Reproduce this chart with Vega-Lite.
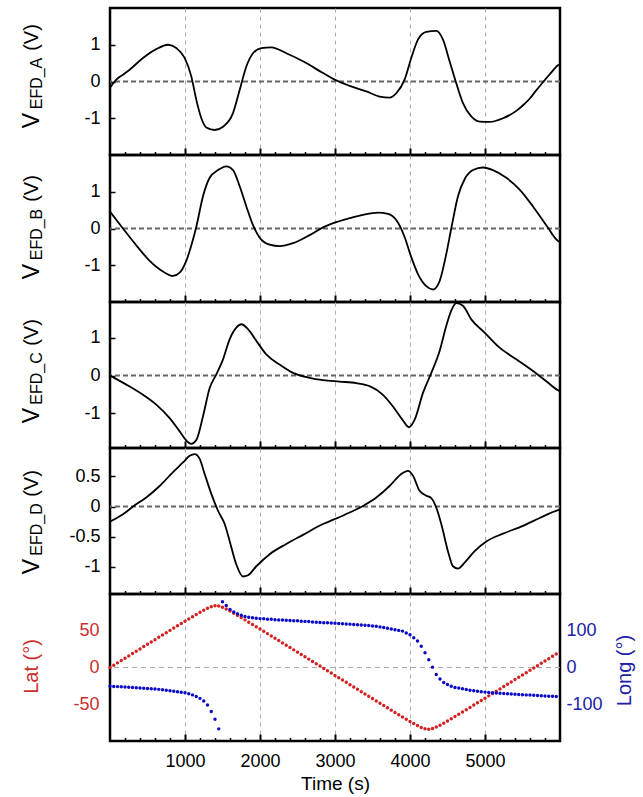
{
"$schema":"https://vega.github.io/schema/vega-lite/v6.json",
"padding":{"left":18,"top":6,"right":5,"bottom":5},
"config":{"view":{"stroke":"black","strokeWidth":2.5},"font":"Liberation Sans","axis":{"labelFont":"Liberation Sans","titleFont":"Liberation Sans","titleFontWeight":"normal","labelColor":"black","titleColor":"black"}},
"datasets":{
"efd":[
{"ch":"A","t":0,"v":-0.17},{"ch":"A","t":84,"v":0.05},{"ch":"A","t":170,"v":0.18},{"ch":"A","t":262,"v":0.32},{"ch":"A","t":440,"v":0.64},{"ch":"A","t":617,"v":0.88},{"ch":"A","t":773,"v":1.0},{"ch":"A","t":884,"v":0.91},{"ch":"A","t":995,"v":0.64},{"ch":"A","t":1084,"v":0.14},{"ch":"A","t":1151,"v":-0.5},{"ch":"A","t":1218,"v":-1.0},{"ch":"A","t":1284,"v":-1.25},{"ch":"A","t":1396,"v":-1.32},{"ch":"A","t":1507,"v":-1.23},{"ch":"A","t":1640,"v":-0.86},{"ch":"A","t":1729,"v":-0.23},{"ch":"A","t":1818,"v":0.41},{"ch":"A","t":1907,"v":0.77},{"ch":"A","t":2018,"v":0.91},{"ch":"A","t":2151,"v":0.93},{"ch":"A","t":2351,"v":0.77},{"ch":"A","t":2573,"v":0.55},{"ch":"A","t":2840,"v":0.23},{"ch":"A","t":2995,"v":0.05},{"ch":"A","t":3195,"v":-0.12},{"ch":"A","t":3418,"v":-0.27},{"ch":"A","t":3595,"v":-0.41},{"ch":"A","t":3728,"v":-0.44},{"ch":"A","t":3817,"v":-0.32},{"ch":"A","t":3928,"v":0.05},{"ch":"A","t":4017,"v":0.64},{"ch":"A","t":4106,"v":1.14},{"ch":"A","t":4217,"v":1.35},{"ch":"A","t":4351,"v":1.38},{"ch":"A","t":4440,"v":1.14},{"ch":"A","t":4528,"v":0.55},{"ch":"A","t":4617,"v":-0.05},{"ch":"A","t":4706,"v":-0.59},{"ch":"A","t":4817,"v":-0.95},{"ch":"A","t":4928,"v":-1.09},{"ch":"A","t":5062,"v":-1.1},{"ch":"A","t":5240,"v":-1.0},{"ch":"A","t":5417,"v":-0.8},{"ch":"A","t":5500,"v":-0.66},{"ch":"A","t":5595,"v":-0.47},{"ch":"A","t":5680,"v":-0.25},{"ch":"A","t":5773,"v":-0.02},{"ch":"A","t":5873,"v":0.22},{"ch":"A","t":5973,"v":0.44},{"ch":"A","t":6000,"v":0.47},
{"ch":"B","t":0,"v":0.46},{"ch":"B","t":173,"v":0},{"ch":"B","t":351,"v":-0.46},{"ch":"B","t":529,"v":-0.88},{"ch":"B","t":706,"v":-1.17},{"ch":"B","t":840,"v":-1.29},{"ch":"B","t":929,"v":-1.2},{"ch":"B","t":1017,"v":-0.88},{"ch":"B","t":1084,"v":-0.46},{"ch":"B","t":1151,"v":0.05},{"ch":"B","t":1240,"v":0.88},{"ch":"B","t":1329,"v":1.38},{"ch":"B","t":1440,"v":1.59},{"ch":"B","t":1551,"v":1.69},{"ch":"B","t":1640,"v":1.59},{"ch":"B","t":1729,"v":1.15},{"ch":"B","t":1818,"v":0.6},{"ch":"B","t":1907,"v":0.09},{"ch":"B","t":1996,"v":-0.25},{"ch":"B","t":2129,"v":-0.44},{"ch":"B","t":2262,"v":-0.48},{"ch":"B","t":2440,"v":-0.4},{"ch":"B","t":2662,"v":-0.18},{"ch":"B","t":2840,"v":0.03},{"ch":"B","t":2995,"v":0.16},{"ch":"B","t":3195,"v":0.28},{"ch":"B","t":3373,"v":0.37},{"ch":"B","t":3573,"v":0.43},{"ch":"B","t":3706,"v":0.4},{"ch":"B","t":3817,"v":0.23},{"ch":"B","t":3928,"v":-0.23},{"ch":"B","t":4017,"v":-0.78},{"ch":"B","t":4106,"v":-1.24},{"ch":"B","t":4217,"v":-1.57},{"ch":"B","t":4306,"v":-1.66},{"ch":"B","t":4395,"v":-1.43},{"ch":"B","t":4484,"v":-0.69},{"ch":"B","t":4550,"v":0},{"ch":"B","t":4640,"v":0.88},{"ch":"B","t":4728,"v":1.34},{"ch":"B","t":4840,"v":1.59},{"ch":"B","t":4973,"v":1.66},{"ch":"B","t":5106,"v":1.59},{"ch":"B","t":5284,"v":1.38},{"ch":"B","t":5462,"v":1.06},{"ch":"B","t":5640,"v":0.6},{"ch":"B","t":5817,"v":0.09},{"ch":"B","t":5973,"v":-0.34},{"ch":"B","t":6000,"v":-0.37},
{"ch":"C","t":0,"v":0},{"ch":"C","t":218,"v":-0.24},{"ch":"C","t":440,"v":-0.51},{"ch":"C","t":617,"v":-0.77},{"ch":"C","t":795,"v":-1.13},{"ch":"C","t":929,"v":-1.48},{"ch":"C","t":1017,"v":-1.72},{"ch":"C","t":1084,"v":-1.81},{"ch":"C","t":1151,"v":-1.71},{"ch":"C","t":1240,"v":-1.08},{"ch":"C","t":1329,"v":-0.33},{"ch":"C","t":1418,"v":0.03},{"ch":"C","t":1507,"v":0.43},{"ch":"C","t":1595,"v":0.96},{"ch":"C","t":1684,"v":1.27},{"ch":"C","t":1751,"v":1.36},{"ch":"C","t":1840,"v":1.23},{"ch":"C","t":1951,"v":0.92},{"ch":"C","t":2084,"v":0.56},{"ch":"C","t":2262,"v":0.29},{"ch":"C","t":2440,"v":0.07},{"ch":"C","t":2662,"v":-0.06},{"ch":"C","t":2840,"v":-0.12},{"ch":"C","t":3062,"v":-0.16},{"ch":"C","t":3284,"v":-0.2},{"ch":"C","t":3462,"v":-0.28},{"ch":"C","t":3640,"v":-0.51},{"ch":"C","t":3773,"v":-0.82},{"ch":"C","t":3906,"v":-1.19},{"ch":"C","t":3986,"v":-1.37},{"ch":"C","t":4062,"v":-1.17},{"ch":"C","t":4173,"v":-0.46},{"ch":"C","t":4284,"v":0.07},{"ch":"C","t":4395,"v":0.65},{"ch":"C","t":4484,"v":1.32},{"ch":"C","t":4550,"v":1.72},{"ch":"C","t":4617,"v":1.92},{"ch":"C","t":4706,"v":1.85},{"ch":"C","t":4817,"v":1.49},{"ch":"C","t":4995,"v":1.14},{"ch":"C","t":5195,"v":0.74},{"ch":"C","t":5417,"v":0.43},{"ch":"C","t":5640,"v":0.12},{"ch":"C","t":5817,"v":-0.15},{"ch":"C","t":5973,"v":-0.39},{"ch":"C","t":6000,"v":-0.42},
{"ch":"D","t":0,"v":-0.25},{"ch":"D","t":173,"v":-0.13},{"ch":"D","t":307,"v":0},{"ch":"D","t":484,"v":0.15},{"ch":"D","t":662,"v":0.34},{"ch":"D","t":840,"v":0.57},{"ch":"D","t":973,"v":0.73},{"ch":"D","t":1062,"v":0.84},{"ch":"D","t":1129,"v":0.87},{"ch":"D","t":1196,"v":0.79},{"ch":"D","t":1262,"v":0.54},{"ch":"D","t":1351,"v":0.21},{"ch":"D","t":1440,"v":-0.07},{"ch":"D","t":1529,"v":-0.29},{"ch":"D","t":1595,"v":-0.57},{"ch":"D","t":1684,"v":-0.96},{"ch":"D","t":1773,"v":-1.16},{"ch":"D","t":1840,"v":-1.14},{"ch":"D","t":1951,"v":-0.99},{"ch":"D","t":2129,"v":-0.79},{"ch":"D","t":2351,"v":-0.62},{"ch":"D","t":2573,"v":-0.47},{"ch":"D","t":2840,"v":-0.29},{"ch":"D","t":2995,"v":-0.21},{"ch":"D","t":3195,"v":-0.1},{"ch":"D","t":3373,"v":0.01},{"ch":"D","t":3551,"v":0.15},{"ch":"D","t":3728,"v":0.34},{"ch":"D","t":3884,"v":0.54},{"ch":"D","t":3973,"v":0.59},{"ch":"D","t":4040,"v":0.51},{"ch":"D","t":4128,"v":0.26},{"ch":"D","t":4217,"v":0.18},{"ch":"D","t":4284,"v":0.14},{"ch":"D","t":4351,"v":-0.02},{"ch":"D","t":4417,"v":-0.29},{"ch":"D","t":4506,"v":-0.74},{"ch":"D","t":4573,"v":-0.99},{"ch":"D","t":4640,"v":-1.03},{"ch":"D","t":4728,"v":-0.93},{"ch":"D","t":4862,"v":-0.74},{"ch":"D","t":5017,"v":-0.58},{"ch":"D","t":5240,"v":-0.45},{"ch":"D","t":5506,"v":-0.32},{"ch":"D","t":5728,"v":-0.19},{"ch":"D","t":5973,"v":-0.06},{"ch":"D","t":6000,"v":-0.05}
],
"orbit":[
{"t":0,"lat":0,"lon":-51},{"t":50,"lat":3.2,"lon":-51.5},{"t":100,"lat":6.3,"lon":-52},{"t":150,"lat":9.5,"lon":-52.5},{"t":200,"lat":12.7,"lon":-53},{"t":250,"lat":15.8,"lon":-54},{"t":300,"lat":19.0,"lon":-54.5},{"t":350,"lat":22.1,"lon":-55},{"t":400,"lat":25.3,"lon":-55.5},{"t":450,"lat":28.5,"lon":-56.5},{"t":500,"lat":31.6,"lon":-57},{"t":550,"lat":34.8,"lon":-58},{"t":600,"lat":37.9,"lon":-58.5},{"t":650,"lat":41.1,"lon":-59.5},{"t":700,"lat":44.2,"lon":-60.5},{"t":750,"lat":47.4,"lon":-62},{"t":800,"lat":50.5,"lon":-63},{"t":850,"lat":53.7,"lon":-64.5},{"t":900,"lat":56.8,"lon":-66},{"t":950,"lat":59.9,"lon":-67.5},{"t":1000,"lat":63.0,"lon":-69},{"t":1050,"lat":66.0,"lon":-71.5},{"t":1100,"lat":69.1,"lon":-74.5},{"t":1150,"lat":72.1,"lon":-79},{"t":1200,"lat":75.1,"lon":-84},{"t":1250,"lat":77.9,"lon":-91},{"t":1300,"lat":80.5,"lon":-102},{"t":1350,"lat":82.7,"lon":-120},{"t":1400,"lat":83.9,"lon":-141},{"t":1450,"lat":83.6,"lon":-167},{"t":1500,"lat":81.9,"lon":179},{"t":1550,"lat":79.5,"lon":169},{"t":1600,"lat":76.8,"lon":158},{"t":1650,"lat":73.9,"lon":151},{"t":1700,"lat":70.9,"lon":146},{"t":1750,"lat":67.9,"lon":142},{"t":1800,"lat":64.8,"lon":139},{"t":1850,"lat":61.7,"lon":137},{"t":1900,"lat":58.6,"lon":135.5},{"t":1950,"lat":55.5,"lon":134},{"t":2000,"lat":52.4,"lon":133},{"t":2050,"lat":49.3,"lon":132.5},{"t":2100,"lat":46.1,"lon":131.5},{"t":2150,"lat":43.0,"lon":131},{"t":2200,"lat":39.8,"lon":130},{"t":2250,"lat":36.7,"lon":129.5},{"t":2300,"lat":33.5,"lon":129},{"t":2350,"lat":30.4,"lon":128.5},{"t":2400,"lat":27.2,"lon":128},{"t":2450,"lat":24.0,"lon":127.5},{"t":2500,"lat":20.9,"lon":127},{"t":2550,"lat":17.7,"lon":126},{"t":2600,"lat":14.6,"lon":125.5},{"t":2650,"lat":11.4,"lon":125},{"t":2700,"lat":8.2,"lon":124},{"t":2750,"lat":5.1,"lon":123},{"t":2800,"lat":1.9,"lon":122.5},{"t":2850,"lat":-1.3,"lon":122},{"t":2900,"lat":-4.4,"lon":121.5},{"t":2950,"lat":-7.6,"lon":121},{"t":3000,"lat":-10.8,"lon":120.5},{"t":3050,"lat":-13.9,"lon":120},{"t":3100,"lat":-17.1,"lon":119},{"t":3150,"lat":-20.2,"lon":118.5},{"t":3200,"lat":-23.4,"lon":118},{"t":3250,"lat":-26.6,"lon":117},{"t":3300,"lat":-29.7,"lon":116.5},{"t":3350,"lat":-32.9,"lon":115.5},{"t":3400,"lat":-36.0,"lon":115},{"t":3450,"lat":-39.2,"lon":114},{"t":3500,"lat":-42.3,"lon":113},{"t":3550,"lat":-45.5,"lon":112},{"t":3600,"lat":-48.6,"lon":110.5},{"t":3650,"lat":-51.7,"lon":109},{"t":3700,"lat":-54.9,"lon":107},{"t":3750,"lat":-58.0,"lon":105},{"t":3800,"lat":-61.1,"lon":103},{"t":3850,"lat":-64.2,"lon":101},{"t":3900,"lat":-67.3,"lon":99},{"t":3950,"lat":-70.3,"lon":94},{"t":4000,"lat":-73.4,"lon":89},{"t":4050,"lat":-76.2,"lon":81},{"t":4100,"lat":-79.0,"lon":72},{"t":4150,"lat":-81.5,"lon":58},{"t":4200,"lat":-83.3,"lon":40},{"t":4250,"lat":-84.0,"lon":21},{"t":4300,"lat":-83.0,"lon":1},{"t":4350,"lat":-81.0,"lon":-19},{"t":4400,"lat":-78.5,"lon":-31},{"t":4450,"lat":-75.7,"lon":-41},{"t":4500,"lat":-72.7,"lon":-46.5},{"t":4550,"lat":-69.7,"lon":-51},{"t":4600,"lat":-66.7,"lon":-54.5},{"t":4650,"lat":-63.6,"lon":-56},{"t":4700,"lat":-60.5,"lon":-58},{"t":4750,"lat":-57.4,"lon":-60},{"t":4800,"lat":-54.3,"lon":-62},{"t":4850,"lat":-51.1,"lon":-63},{"t":4900,"lat":-48.0,"lon":-64.5},{"t":4950,"lat":-44.8,"lon":-66},{"t":5000,"lat":-41.7,"lon":-67},{"t":5050,"lat":-38.6,"lon":-68},{"t":5100,"lat":-35.4,"lon":-68.5},{"t":5150,"lat":-32.2,"lon":-69.5},{"t":5200,"lat":-29.1,"lon":-70},{"t":5250,"lat":-25.9,"lon":-71},{"t":5300,"lat":-22.8,"lon":-71.5},{"t":5350,"lat":-19.6,"lon":-72},{"t":5400,"lat":-16.4,"lon":-73},{"t":5450,"lat":-13.3,"lon":-73.5},{"t":5500,"lat":-10.1,"lon":-74},{"t":5550,"lat":-7.0,"lon":-74.5},{"t":5600,"lat":-3.8,"lon":-75},{"t":5650,"lat":-0.6,"lon":-75.5},{"t":5700,"lat":2.5,"lon":-76},{"t":5750,"lat":5.7,"lon":-77},{"t":5800,"lat":8.9,"lon":-77.5},{"t":5850,"lat":12.0,"lon":-78},{"t":5900,"lat":15.2,"lon":-78.5},{"t":5950,"lat":18.4,"lon":-79}
]
},
"spacing":0,
"bounds":"flush",
"vconcat":[
{"width":450,"height":147,"resolve":{"axis":{"x":"independent","y":"independent"}},
 "layer":[
  {"data":{"values":[{}]},"mark":{"type":"rule","color":"#666666","strokeDash":[5,3],"strokeWidth":2},"encoding":{"y":{"datum":0,"type":"quantitative","scale":{"domain":[-2,2],"nice":false},"axis":null}}},
  {"data":{"name":"efd"},"transform":[{"filter":"datum.ch=='A'"}],"mark":{"type":"line","color":"black","strokeWidth":1.8,"interpolate":"monotone"},
   "encoding":{"x":{"field":"t","type":"quantitative","scale":{"domain":[0,6000],"nice":false},"axis":{"orient":"bottom","values":[1000,2000,3000,4000,5000],"labels":false,"title":null,"domain":false,"grid":true,"gridColor":"#aaaaaa","gridDash":[4,4],"gridWidth":1,"tickSize":-7,"tickWidth":2,"tickColor":"black"}},
   "y":{"field":"v","type":"quantitative","scale":{"domain":[-2,2],"nice":false},"axis":{"orient":"left","values":[-1,0,1],"labelExpr":"toString(datum.value)","grid":false,"domain":false,"tickSize":-5,"tickWidth":1.5,"tickColor":"black","labelFontSize":18,"labelPadding":15,"title":"V","titleFontSize":23,"titleX":-79,"titleY":112,"titleAngle":-90,"titleAlign":"center","titleBaseline":"middle"}}}},
  {"data":{"values":[{}]},"mark":{"type":"point","opacity":0},"encoding":{"x":{"datum":0,"type":"quantitative","scale":{"domain":[0,6000],"nice":false},"axis":{"orient":"bottom","values":[200,400,600,800,1200,1400,1600,1800,2200,2400,2600,2800,3200,3400,3600,3800,4200,4400,4600,4800,5200,5400,5600,5800],"labels":false,"title":null,"domain":false,"grid":false,"tickSize":-3.5,"tickWidth":1.5,"tickColor":"black"}},
   "y":{"datum":0,"type":"quantitative","scale":{"domain":[-2,2],"nice":false},"axis":{"orient":"left","labels":false,"ticks":false,"domain":false,"grid":false,"title":"EFD_A","titleFontSize":16,"titleX":-74,"titleY":75,"titleAngle":-90,"titleAlign":"center","titleBaseline":"middle"}}}},
  {"data":{"values":[{}]},"mark":{"type":"point","opacity":0},"encoding":{"y":{"datum":0,"type":"quantitative","scale":{"domain":[-2,2],"nice":false},"axis":{"orient":"left","labels":false,"ticks":false,"domain":false,"grid":false,"title":"(V)","titleFontSize":20,"titleX":-79,"titleY":29,"titleAngle":-90,"titleAlign":"center","titleBaseline":"middle"}}}}
 ]},
{"width":450,"height":147,"resolve":{"axis":{"x":"independent","y":"independent"}},
 "layer":[
  {"data":{"values":[{}]},"mark":{"type":"rule","color":"#666666","strokeDash":[5,3],"strokeWidth":2},"encoding":{"y":{"datum":0,"type":"quantitative","scale":{"domain":[-2,2],"nice":false},"axis":null}}},
  {"data":{"name":"efd"},"transform":[{"filter":"datum.ch=='B'"}],"mark":{"type":"line","color":"black","strokeWidth":1.8,"interpolate":"monotone"},
   "encoding":{"x":{"field":"t","type":"quantitative","scale":{"domain":[0,6000],"nice":false},"axis":{"orient":"bottom","values":[1000,2000,3000,4000,5000],"labels":false,"title":null,"domain":false,"grid":true,"gridColor":"#aaaaaa","gridDash":[4,4],"gridWidth":1,"tickSize":-7,"tickWidth":2,"tickColor":"black"}},
   "y":{"field":"v","type":"quantitative","scale":{"domain":[-2,2],"nice":false},"axis":{"orient":"left","values":[-1,0,1],"labelExpr":"toString(datum.value)","grid":false,"domain":false,"tickSize":-5,"tickWidth":1.5,"tickColor":"black","labelFontSize":18,"labelPadding":15,"title":"V","titleFontSize":23,"titleX":-79,"titleY":116,"titleAngle":-90,"titleAlign":"center","titleBaseline":"middle"}}}},
  {"data":{"values":[{}]},"mark":{"type":"point","opacity":0},"encoding":{"x":{"datum":0,"type":"quantitative","scale":{"domain":[0,6000],"nice":false},"axis":{"orient":"bottom","values":[200,400,600,800,1200,1400,1600,1800,2200,2400,2600,2800,3200,3400,3600,3800,4200,4400,4600,4800,5200,5400,5600,5800],"labels":false,"title":null,"domain":false,"grid":false,"tickSize":-3.5,"tickWidth":1.5,"tickColor":"black"}},
   "y":{"datum":0,"type":"quantitative","scale":{"domain":[-2,2],"nice":false},"axis":{"orient":"left","labels":false,"ticks":false,"domain":false,"grid":false,"title":"EFD_B","titleFontSize":16,"titleX":-74,"titleY":79,"titleAngle":-90,"titleAlign":"center","titleBaseline":"middle"}}}},
  {"data":{"values":[{}]},"mark":{"type":"point","opacity":0},"encoding":{"y":{"datum":0,"type":"quantitative","scale":{"domain":[-2,2],"nice":false},"axis":{"orient":"left","labels":false,"ticks":false,"domain":false,"grid":false,"title":"(V)","titleFontSize":20,"titleX":-79,"titleY":33,"titleAngle":-90,"titleAlign":"center","titleBaseline":"middle"}}}}
 ]},
{"width":450,"height":146,"resolve":{"axis":{"x":"independent","y":"independent"}},
 "layer":[
  {"data":{"values":[{}]},"mark":{"type":"rule","color":"#666666","strokeDash":[5,3],"strokeWidth":2},"encoding":{"y":{"datum":0,"type":"quantitative","scale":{"domain":[-1.92,1.95],"nice":false},"axis":null}}},
  {"data":{"name":"efd"},"transform":[{"filter":"datum.ch=='C'"}],"mark":{"type":"line","color":"black","strokeWidth":1.8,"interpolate":"monotone"},
   "encoding":{"x":{"field":"t","type":"quantitative","scale":{"domain":[0,6000],"nice":false},"axis":{"orient":"bottom","values":[1000,2000,3000,4000,5000],"labels":false,"title":null,"domain":false,"grid":true,"gridColor":"#aaaaaa","gridDash":[4,4],"gridWidth":1,"tickSize":-7,"tickWidth":2,"tickColor":"black"}},
   "y":{"field":"v","type":"quantitative","scale":{"domain":[-1.92,1.95],"nice":false},"axis":{"orient":"left","values":[-1,0,1],"labelExpr":"toString(datum.value)","grid":false,"domain":false,"tickSize":-5,"tickWidth":1.5,"tickColor":"black","labelFontSize":18,"labelPadding":15,"title":"V","titleFontSize":23,"titleX":-79,"titleY":113,"titleAngle":-90,"titleAlign":"center","titleBaseline":"middle"}}}},
  {"data":{"values":[{}]},"mark":{"type":"point","opacity":0},"encoding":{"x":{"datum":0,"type":"quantitative","scale":{"domain":[0,6000],"nice":false},"axis":{"orient":"bottom","values":[200,400,600,800,1200,1400,1600,1800,2200,2400,2600,2800,3200,3400,3600,3800,4200,4400,4600,4800,5200,5400,5600,5800],"labels":false,"title":null,"domain":false,"grid":false,"tickSize":-3.5,"tickWidth":1.5,"tickColor":"black"}},
   "y":{"datum":0,"type":"quantitative","scale":{"domain":[-1.92,1.95],"nice":false},"axis":{"orient":"left","labels":false,"ticks":false,"domain":false,"grid":false,"title":"EFD_C","titleFontSize":16,"titleX":-74,"titleY":76,"titleAngle":-90,"titleAlign":"center","titleBaseline":"middle"}}}},
  {"data":{"values":[{}]},"mark":{"type":"point","opacity":0},"encoding":{"y":{"datum":0,"type":"quantitative","scale":{"domain":[-1.92,1.95],"nice":false},"axis":{"orient":"left","labels":false,"ticks":false,"domain":false,"grid":false,"title":"(V)","titleFontSize":20,"titleX":-79,"titleY":30,"titleAngle":-90,"titleAlign":"center","titleBaseline":"middle"}}}}
 ]},
{"width":450,"height":146,"resolve":{"axis":{"x":"independent","y":"independent"}},
 "layer":[
  {"data":{"values":[{}]},"mark":{"type":"rule","color":"#666666","strokeDash":[5,3],"strokeWidth":2},"encoding":{"y":{"datum":0,"type":"quantitative","scale":{"domain":[-1.45,0.97],"nice":false},"axis":null}}},
  {"data":{"name":"efd"},"transform":[{"filter":"datum.ch=='D'"}],"mark":{"type":"line","color":"black","strokeWidth":1.8,"interpolate":"monotone"},
   "encoding":{"x":{"field":"t","type":"quantitative","scale":{"domain":[0,6000],"nice":false},"axis":{"orient":"bottom","values":[1000,2000,3000,4000,5000],"labels":false,"title":null,"domain":false,"grid":true,"gridColor":"#aaaaaa","gridDash":[4,4],"gridWidth":1,"tickSize":-7,"tickWidth":2,"tickColor":"black"}},
   "y":{"field":"v","type":"quantitative","scale":{"domain":[-1.45,0.97],"nice":false},"axis":{"orient":"left","values":[-1,-0.5,0,0.5],"labelExpr":"toString(datum.value)","grid":false,"domain":false,"tickSize":-5,"tickWidth":1.5,"tickColor":"black","labelFontSize":18,"labelPadding":15,"title":"V","titleFontSize":23,"titleX":-79,"titleY":118,"titleAngle":-90,"titleAlign":"center","titleBaseline":"middle"}}}},
  {"data":{"values":[{}]},"mark":{"type":"point","opacity":0},"encoding":{"x":{"datum":0,"type":"quantitative","scale":{"domain":[0,6000],"nice":false},"axis":{"orient":"bottom","values":[200,400,600,800,1200,1400,1600,1800,2200,2400,2600,2800,3200,3400,3600,3800,4200,4400,4600,4800,5200,5400,5600,5800],"labels":false,"title":null,"domain":false,"grid":false,"tickSize":-3.5,"tickWidth":1.5,"tickColor":"black"}},
   "y":{"datum":0,"type":"quantitative","scale":{"domain":[-1.45,0.97],"nice":false},"axis":{"orient":"left","labels":false,"ticks":false,"domain":false,"grid":false,"title":"EFD_D","titleFontSize":16,"titleX":-74,"titleY":81,"titleAngle":-90,"titleAlign":"center","titleBaseline":"middle"}}}},
  {"data":{"values":[{}]},"mark":{"type":"point","opacity":0},"encoding":{"y":{"datum":0,"type":"quantitative","scale":{"domain":[-1.45,0.97],"nice":false},"axis":{"orient":"left","labels":false,"ticks":false,"domain":false,"grid":false,"title":"(V)","titleFontSize":20,"titleX":-79,"titleY":35,"titleAngle":-90,"titleAlign":"center","titleBaseline":"middle"}}}}
 ]},
{"width":450,"height":147,"resolve":{"axis":{"x":"independent"},"scale":{"y":"independent"}},
 "layer":[
  {"data":{"values":[{}]},"mark":{"type":"rule","color":"#aaaaaa","strokeDash":[5,4],"strokeWidth":1},"encoding":{"y":{"datum":0,"type":"quantitative","scale":{"domain":[-100,100],"nice":false},"axis":null}}},
  {"data":{"name":"orbit"},"mark":{"type":"circle","color":"#d42020","size":12,"opacity":1},
   "encoding":{"x":{"field":"t","type":"quantitative","scale":{"domain":[0,6000],"nice":false},"axis":{"orient":"bottom","values":[1000,2000,3000,4000,5000],"labelExpr":"toString(datum.value)","labelFontSize":18,"labelPadding":18,"title":"Time (s)","titleFontSize":19,"titlePadding":4,"domain":false,"grid":true,"gridColor":"#aaaaaa","gridDash":[4,4],"gridWidth":1,"tickSize":-7,"tickWidth":2,"tickColor":"black"}},
   "y":{"field":"lat","type":"quantitative","scale":{"domain":[-100,100],"nice":false},"axis":{"values":[-50,0,50],"labelExpr":"toString(datum.value)","grid":false,"domain":false,"ticks":false,"labelFontSize":18,"labelPadding":11,"labelColor":"#cc2e2e","title":"Lat (°)","titleColor":"#cc2e2e","titleFontSize":20,"titleX":-79,"titleY":72,"titleAngle":-90,"titleAlign":"center","titleBaseline":"middle"}}}},
  {"data":{"name":"orbit"},"mark":{"type":"circle","color":"#0a0ac8","size":12,"opacity":1},
   "encoding":{"x":{"field":"t","type":"quantitative","scale":{"domain":[0,6000],"nice":false},"axis":null},
   "y":{"field":"lon","type":"quantitative","scale":{"domain":[-200,200],"nice":false},"axis":{"orient":"right","values":[-100,0,100],"labelExpr":"toString(datum.value)","grid":false,"domain":false,"ticks":false,"labelFontSize":18,"labelPadding":6,"labelColor":"#2020a8","title":"Long (°)","titleColor":"#2020a8","titleFontSize":20,"titleX":64,"titleY":76,"titleAngle":-90,"titleAlign":"center","titleBaseline":"middle"}}}},
  {"data":{"values":[{}]},"mark":{"type":"point","opacity":0},"encoding":{"x":{"datum":0,"type":"quantitative","scale":{"domain":[0,6000],"nice":false},"axis":{"orient":"bottom","values":[200,400,600,800,1200,1400,1600,1800,2200,2400,2600,2800,3200,3400,3600,3800,4200,4400,4600,4800,5200,5400,5600,5800],"labels":false,"title":null,"domain":false,"grid":false,"tickSize":-3.5,"tickWidth":1.5,"tickColor":"black"}}}}
 ]}
]
}
